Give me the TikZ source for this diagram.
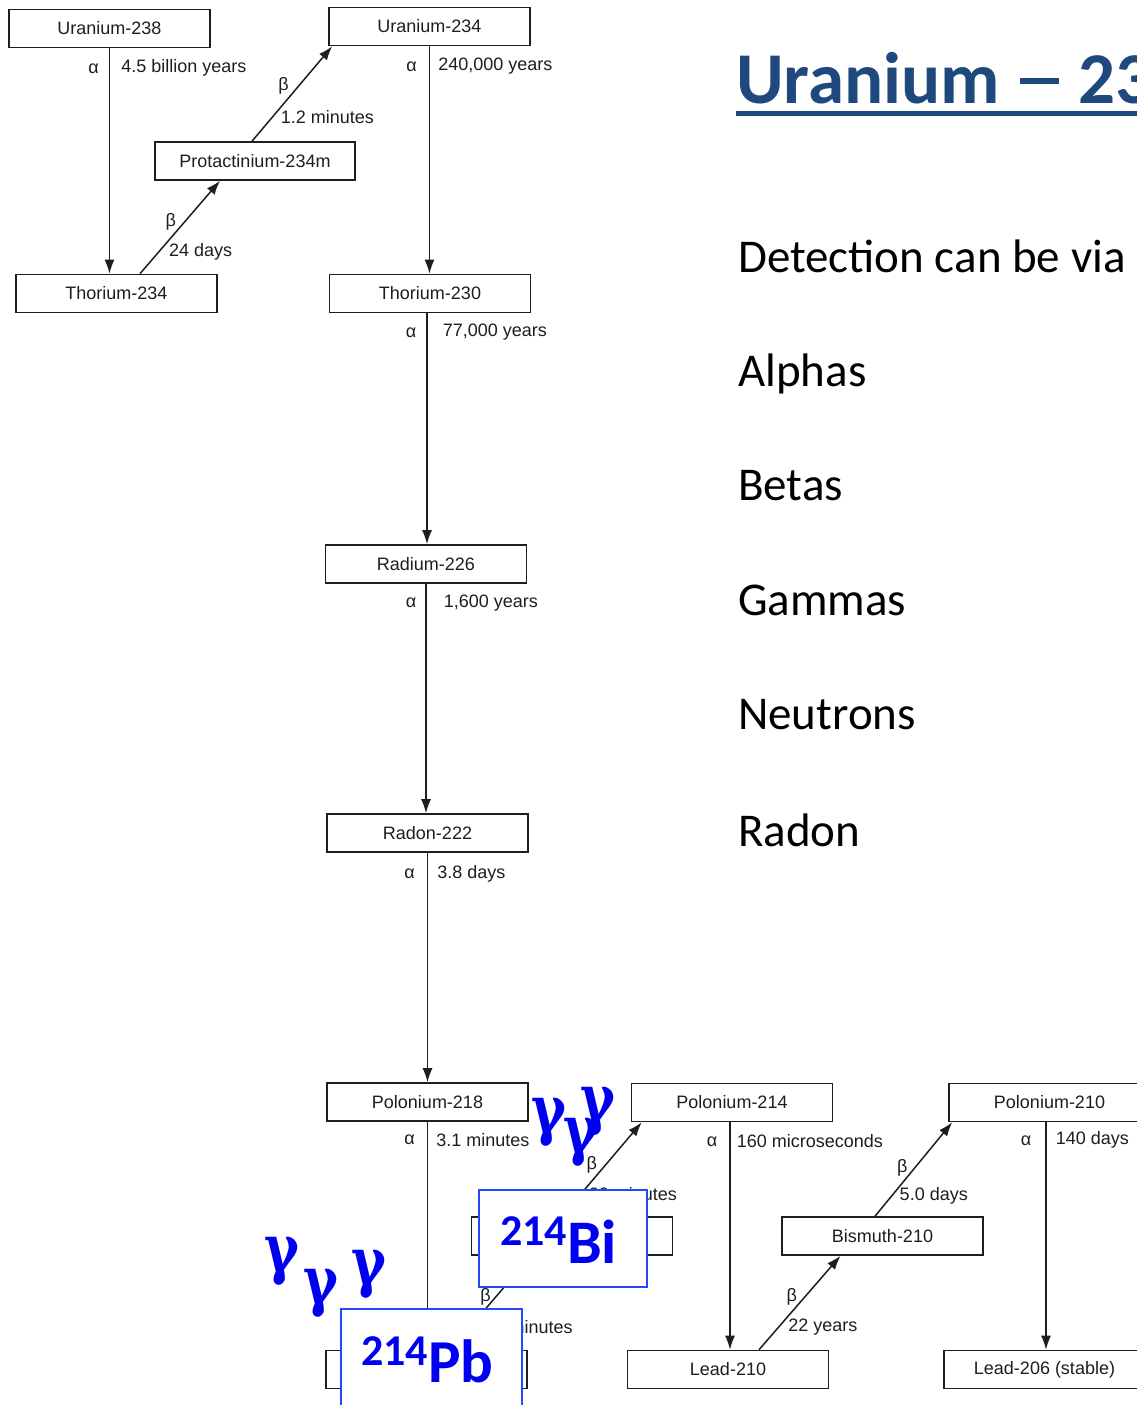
\documentclass[tikz,border=0pt]{standalone}
\usepackage{fontspec}
\setmainfont{Liberation Sans}
\newfontfamily\slidefont{Carlito}
\newfontfamily\gamfont{DejaVu Serif}
\usetikzlibrary{arrows.meta}
\definecolor{chainGray}{RGB}{30,30,30}
\definecolor{titleBlue}{RGB}{31,73,125}
\definecolor{tagBlue}{RGB}{0,0,240}
\definecolor{tagEdge}{RGB}{40,70,255}

\tikzset{
  nuclide/.style={draw=chainGray, line width=1.6pt, minimum width=201pt, minimum height=38pt,
    inner sep=0pt, text=chainGray, font=\fontsize{18}{18}\selectfont},
  decay/.style={chainGray, line width=1.5pt, -{Latex[length=14pt,width=10pt]}},
  lbl/.style={inner sep=0pt, text=chainGray, font=\fontsize{18}{18}\selectfont},
  slide/.style={anchor=base west, inner sep=0pt, font=\slidefont\fontsize{47}{47}\selectfont},
  gam/.style={anchor=base west, inner sep=0pt, text=tagBlue, font=\gamfont\bfseries\fontsize{66}{66}\selectfont},
  tag/.style={draw=tagEdge, line width=1.6pt, fill=white, inner sep=0pt},
  tagtext/.style={anchor=base west, inner sep=0pt, text=tagBlue, font=\slidefont\bfseries}
}
\newcommand{\gam}{\scalebox{0.8}[1]{γ}}

\begin{document}
\begin{tikzpicture}[x=1pt, y=-1pt]
  \clip (0,0) rectangle (1137,1405);
  \fill[white] (0,0) rectangle (1137,1405);

  % decay chain boxes
  \node[nuclide] (u238)  at (109.5,28.5)   {Uranium-238};
  \node[nuclide] (th234) at (116.5,293.5)  {Thorium-234};
  \node[nuclide, minimum width=200pt] (pa234) at (255,161) {Protactinium-234m};
  \node[nuclide] (u234)  at (429.5,26.5)   {Uranium-234};
  \node[nuclide] (th230) at (430,293.5)    {Thorium-230};
  \node[nuclide] (ra226) at (426,564)      {Radium-226};
  \node[nuclide] (rn222) at (427.5,833)    {Radon-222};
  \node[nuclide] (po218) at (427.5,1102)   {Polonium-218};
  \node[nuclide] (pb214) at (426.5,1369.5) {Lead-214};
  \node[nuclide] (bi214) at (572,1236)     {Bismuth-214};
  \node[nuclide] (po214) at (732,1102.5)   {Polonium-214};
  \node[nuclide] (pb210) at (728,1369.5)   {Lead-210};
  \node[nuclide] (bi210) at (882.5,1236)   {Bismuth-210};
  \node[nuclide] (po210) at (1049.5,1102.5) {Polonium-210};
  \node[nuclide] (pb206) at (1044.5,1369.5) {Lead-206 (stable)};

  % alpha decays
  \draw[decay] (u238.south) -- (u238.south |- th234.north)
    node[at start, lbl, anchor=east, xshift=-10pt, yshift=-20pt] (a1) {α}
    node[at start, lbl, anchor=west, xshift=11pt, yshift=-20pt] (h1) {4.5 billion years};
  \draw[decay] (u234.south) -- (u234.south |- th230.north)
    node[at start, lbl, anchor=east, xshift=-12pt, yshift=-20pt] (a2) {α}
    node[at start, lbl, anchor=west, xshift=8pt, yshift=-20pt] (h2) {240,000 years};
  \draw[decay] ([xshift=-3pt]th230.south) -- ([xshift=-3pt]th230.south |- ra226.north)
    node[at start, lbl, anchor=east, xshift=-10pt, yshift=-19pt] (a3) {α}
    node[at start, lbl, anchor=west, xshift=15pt, yshift=-19pt] (h3) {77,000 years};
  \draw[decay] (ra226.south) -- (ra226.south |- rn222.north)
    node[at start, lbl, anchor=east, xshift=-9pt, yshift=-19pt] (a4) {α}
    node[at start, lbl, anchor=west, xshift=17pt, yshift=-19pt] (h4) {1,600 years};
  \draw[decay] (rn222.south) -- (rn222.south |- po218.north)
    node[at start, lbl, anchor=east, xshift=-12pt, yshift=-21pt] (a5) {α}
    node[at start, lbl, anchor=west, xshift=9pt, yshift=-21pt] (h5) {3.8 days};
  \draw[decay] (po218.south) -- (po218.south |- pb214.north)
    node[at start, lbl, anchor=east, xshift=-12pt, yshift=-18pt] (a6) {α}
    node[at start, lbl, anchor=west, xshift=8pt, yshift=-18pt] (h6) {3.1 minutes};
  \draw[decay] ([xshift=-2pt]po214.south) -- ([xshift=-2pt]po214.south |- pb210.north)
    node[at start, lbl, anchor=east, xshift=-12pt, yshift=-19pt] (a7) {α}
    node[at start, lbl, anchor=west, xshift=6pt, yshift=-19pt] (h7) {160 microseconds};
  \draw[decay] ([xshift=-3.5pt]po210.south) -- ([xshift=-3.5pt]po210.south |- pb206.north)
    node[at start, lbl, anchor=east, xshift=-14pt, yshift=-18pt] (a8) {α}
    node[at start, lbl, anchor=west, xshift=9pt, yshift=-18pt] (h8) {140 days};

  % beta decays
  \draw[decay] ([xshift=23.5pt]th234.north) -- ([xshift=-35pt]pa234.south)
    node[pos=0.56, lbl, left=8pt] (b1) {β}
    node[pos=0.23, lbl, right=10pt] (k1) {24 days};
  \draw[decay] ([xshift=-3pt]pa234.north) -- ([xshift=4pt]u234.south west)
    node[pos=0.58, lbl, left=9pt] (b2) {β}
    node[pos=0.25, lbl, right=8pt] (k2) {1.2 minutes};
  \draw[decay] ([xshift=24pt]pb214.north) -- ([xshift=-41pt]bi214.south)
    node[pos=0.56, lbl, left=4pt] (b3) {β}
    node[pos=0.24, lbl, right=14pt] (k3) {27 minutes};
  \draw[decay] ([xshift=-10pt]bi214.north) -- ([xshift=11pt]po214.south west)
    node[pos=0.55, lbl, left=8pt] (b4) {β}
    node[pos=0.24, lbl, right=7pt] (k4) {20 minutes};
  \draw[decay] ([xshift=31pt]pb210.north) -- ([xshift=-42pt]bi210.south)
    node[pos=0.56, lbl, left=7pt] (b5) {β}
    node[pos=0.24, lbl, right=9pt] (k5) {22 years};
  \draw[decay] ([xshift=-7.5pt]bi210.north) -- ([xshift=4pt]po210.south west)
    node[pos=0.52, lbl, left=7pt] (b6) {β}
    node[pos=0.22, lbl, right=7pt] (k6) {5.0 days};

  % slide text
  \node[anchor=base west, inner sep=0pt, text=titleBlue,
    font=\slidefont\bfseries\fontsize{73}{73}\selectfont] (title) at (736,103)
    {Uranium\kern20pt\rule[19pt]{39pt}{6pt}\kern20pt 238};
  \draw[titleBlue, line width=5pt] ([yshift=-10pt]title.base west) -- ([yshift=-10pt]title.base east);
  \node[slide] (via)  at (738,272) {Detection can be via};
  \node[slide] (alp)  at (738,386) {Alphas};
  \node[slide] (bet)  at (738,500) {Betas};
  \node[slide] (gms)  at (738,615) {Gammas};
  \node[slide] (neu)  at (738,729) {Neutrons};
  \node[slide] (rdn)  at (738,846) {Radon};

  % gamma emitters
  \node[gam] (g1) at (531,1132) {\gam};
  \node[gam] (g2) at (563,1152) {\gam};
  \node[gam] (g3) at (580,1121) {\gam};
  \node[gam] (g4) at (264,1271) {\gam};
  \node[gam] (g5) at (303,1303) {\gam};
  \node[gam] (g6) at (351,1284) {\gam};

  \node[tag, minimum width=168pt, minimum height=97pt] (bitag) at (563,1238.5) {};
  \node[tagtext] (bi) at (500,1263)
    {\raisebox{18pt}{\fontsize{44}{44}\selectfont 214}\fontsize{62}{62}\selectfont Bi};
  \node[tag, minimum width=181pt, minimum height=120pt] (pbtag) at (431.5,1369) {};
  \node[tagtext] (pb) at (361,1382)
    {\raisebox{17pt}{\fontsize{44}{44}\selectfont 214}\fontsize{61}{61}\selectfont Pb};
\end{tikzpicture}
\end{document}
